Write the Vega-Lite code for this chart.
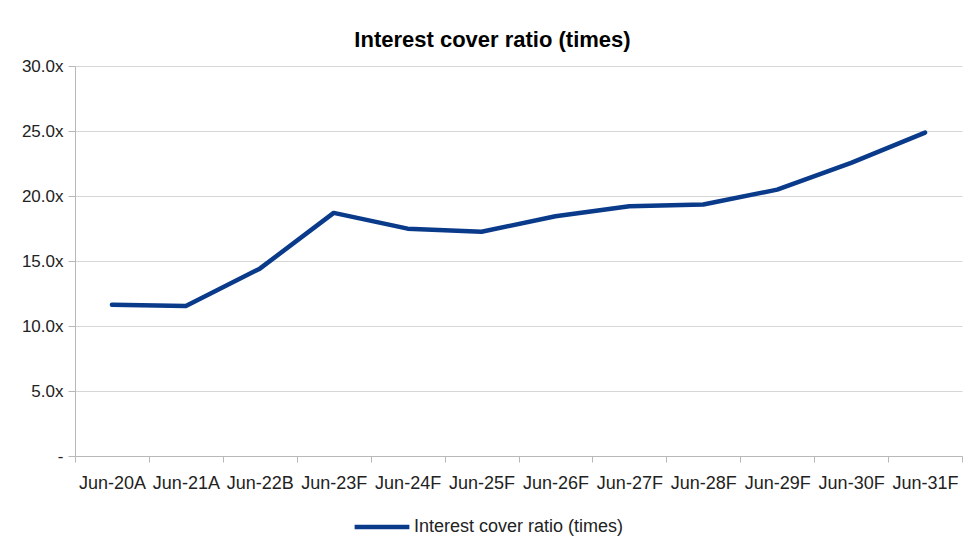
{
  "$schema": "https://vega.github.io/schema/vega-lite/v6.json",
  "autosize": {"type": "none"},
  "width": 887,
  "height": 390,
  "padding": {"left": 75, "top": 66, "right": 18, "bottom": 103},
  "background": "white",
  "title": {
    "text": "Interest cover ratio (times)",
    "font": "Liberation Sans",
    "fontSize": 22,
    "fontWeight": "bold",
    "color": "#000000",
    "anchor": "middle",
    "frame": "group",
    "dx": -26,
    "offset": 5
  },
  "data": {
    "values": [
      {"period": "Jun-20A", "ratio": 11.64, "series": "Interest cover ratio (times)"},
      {"period": "Jun-21A", "ratio": 11.54, "series": "Interest cover ratio (times)"},
      {"period": "Jun-22B", "ratio": 14.41, "series": "Interest cover ratio (times)"},
      {"period": "Jun-23F", "ratio": 18.7, "series": "Interest cover ratio (times)"},
      {"period": "Jun-24F", "ratio": 17.49, "series": "Interest cover ratio (times)"},
      {"period": "Jun-25F", "ratio": 17.25, "series": "Interest cover ratio (times)"},
      {"period": "Jun-26F", "ratio": 18.44, "series": "Interest cover ratio (times)"},
      {"period": "Jun-27F", "ratio": 19.21, "series": "Interest cover ratio (times)"},
      {"period": "Jun-28F", "ratio": 19.34, "series": "Interest cover ratio (times)"},
      {"period": "Jun-29F", "ratio": 20.49, "series": "Interest cover ratio (times)"},
      {"period": "Jun-30F", "ratio": 22.55, "series": "Interest cover ratio (times)"},
      {"period": "Jun-31F", "ratio": 24.88, "series": "Interest cover ratio (times)"}
    ]
  },
  "mark": {"type": "line", "strokeWidth": 4.5, "strokeCap": "round", "strokeJoin": "round"},
  "encoding": {
    "x": {
      "field": "period",
      "type": "ordinal",
      "sort": null,
      "bandPosition": 0.5,
      "scale": {"type": "band", "paddingInner": 0, "paddingOuter": 0},
      "axis": {
        "title": null,
        "labelAngle": 0,
        "labelFont": "Liberation Sans",
        "labelFontSize": 18,
        "labelColor": "#222222",
        "labelPadding": 12,
        "tickBand": "extent",
        "tickSize": 6,
        "tickColor": "#b8b8b8",
        "domainColor": "#b8b8b8",
        "grid": false,
        "labelOverlap": false
      }
    },
    "y": {
      "field": "ratio",
      "type": "quantitative",
      "scale": {"domain": [0, 30], "nice": false},
      "axis": {
        "title": null,
        "values": [0, 5, 10, 15, 20, 25, 30],
        "labelExpr": "datum.value == 0 ? '-\u00a0\u00a0\u00a0' : format(datum.value, '.1f') + 'x'",
        "labelFont": "Liberation Sans",
        "labelFontSize": 17,
        "labelColor": "#222222",
        "labelPadding": 5,
        "tickSize": 7,
        "tickColor": "#b8b8b8",
        "domainColor": "#b8b8b8",
        "gridColor": "#d6d6d6",
        "grid": true
      }
    },
    "color": {
      "field": "series",
      "type": "nominal",
      "scale": {"range": ["#0a3a8a"]},
      "legend": {
        "title": null,
        "orient": "none",
        "legendX": 277,
        "legendY": 431,
        "symbolType": "stroke",
        "symbolSize": 3000,
        "symbolStrokeWidth": 4.5,
        "labelFont": "Liberation Sans",
        "labelFontSize": 18,
        "labelColor": "#222222",
        "labelOffset": 2,
        "labelLimit": 400
      }
    }
  },
  "config": {"view": {"stroke": null}}
}
